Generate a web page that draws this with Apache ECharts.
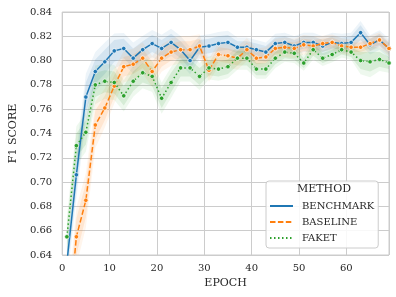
<!DOCTYPE html>
<html>
<head>
<meta charset="utf-8">
<script src="https://cdn.jsdelivr.net/npm/echarts@6/dist/echarts.min.js"></script>
<style>html,body{margin:0;padding:0;background:#fff}#c{width:396px;height:297px}</style>
</head>
<body>
<div id="c"></div>
<script>
const epochs = [1,3,5,7,9,11,13,15,17,19,21,23,25,27,29,31,33,35,37,39,41,43,45,47,49,51,53,55,57,59,61,63,65,67,69];
const benchmark = [0.634,0.706,0.770,0.791,0.799,0.808,0.810,0.802,0.809,0.814,0.810,0.815,0.809,0.800,0.811,0.812,0.814,0.815,0.811,0.811,0.809,0.807,0.814,0.815,0.812,0.815,0.815,0.812,0.815,0.814,0.815,0.823,0.813,0.817,0.810];
const baseline = [0.570,0.655,0.685,0.747,0.761,0.779,0.795,0.797,0.802,0.791,0.802,0.807,0.809,0.809,0.812,0.792,0.805,0.804,0.802,0.809,0.802,0.803,0.810,0.811,0.810,0.813,0.812,0.814,0.815,0.812,0.811,0.811,0.814,0.817,0.810];
const faket = [0.655,0.730,0.741,0.780,0.783,0.782,0.771,0.783,0.790,0.787,0.769,0.782,0.794,0.794,0.787,0.794,0.793,0.795,0.802,0.802,0.793,0.793,0.802,0.807,0.806,0.798,0.809,0.802,0.805,0.809,0.807,0.800,0.799,0.801,0.798];
const benchmarkCi = [0.010,0.012,0.012,0.010,0.010,0.009,0.008,0.008,0.007,0.007,0.007,0.007,0.007,0.007,0.006,0.006,0.006,0.006,0.005,0.005,0.005,0.005,0.005,0.005,0.005,0.005,0.005,0.005,0.005,0.005,0.005,0.006,0.005,0.005,0.005];
const baselineCi = [0.015,0.015,0.014,0.012,0.010,0.009,0.008,0.008,0.008,0.008,0.007,0.007,0.007,0.007,0.006,0.006,0.006,0.006,0.006,0.006,0.005,0.005,0.005,0.005,0.005,0.005,0.005,0.004,0.004,0.004,0.004,0.004,0.004,0.004,0.004];
const faketCi = [0.010,0.010,0.010,0.010,0.009,0.009,0.008,0.008,0.008,0.008,0.008,0.008,0.007,0.007,0.007,0.006,0.006,0.006,0.006,0.006,0.005,0.005,0.005,0.005,0.005,0.004,0.005,0.004,0.004,0.004,0.004,0.007,0.008,0.006,0.005];
const yTicks = {min:0.64, max:0.84, interval:0.02};
const xTicks = {min:0, max:69, interval:10};

const FONT = 'DejaVu Serif';
const TXT = '#262626';
const methods = [
  {name:'BENCHMARK', vals:benchmark, ci:benchmarkCi, color:'#1f77b4', type:'solid'},
  {name:'BASELINE', vals:baseline, ci:baselineCi, color:'#ff7f0e', type:[5.5,2.4]},
  {name:'FAKET', vals:faket, ci:faketCi, color:'#2ca02c', type:[1.5,2.5]}
];
const bandLayers = [{scale:1.6, opacity:0.08}, {scale:1.0, opacity:0.12}];
const series = [];
methods.forEach((m,i)=>{
  const band = epochs.map((e,k)=>[e, m.vals[k]-m.ci[k], m.vals[k]+m.ci[k]]);
  series.push({
    name:m.name+'_band', type:'custom', silent:true, clip:true, z:1,
    data:band,
    encode:{x:0, y:[1,2]},
    renderItem:(params, api)=>{
      if (params.dataIndex !== 0) return null;
      const cs = params.coordSys;
      const children = bandLayers.map(L=>{
        const up = [], lo = [];
        epochs.forEach((e,k)=>{
          up.push(api.coord([e, m.vals[k] + m.ci[k]*L.scale]));
          lo.push(api.coord([e, m.vals[k] - m.ci[k]*L.scale]));
        });
        return {type:'polygon', shape:{points:up.concat(lo.reverse())}, style:{fill:m.color, opacity:L.opacity}};
      });
      return {
        type:'group', children:children,
        clipPath:{type:'rect', shape:{x:cs.x, y:cs.y, width:cs.width, height:cs.height}}
      };
    },
    animation:false
  });
});
methods.forEach((m,i)=>{
  series.push({
    name:m.name, type:'line', symbol:'circle', symbolSize:4.5,
    data:epochs.map((e,k)=>[e, m.vals[k]]),
    lineStyle:{color:m.color, width:1.5, type:m.type},
    itemStyle:{color:m.color, borderColor:'#fff', borderWidth:0.7},
    z:3+i, clip:true, animation:false
  });
});

const chart = echarts.init(document.getElementById('c'), null, {renderer:'canvas'});
chart.setOption({
  animation:false,
  backgroundColor:'#fff',
  grid:{left:56, right:7, top:12, bottom:42, show:true, borderColor:'#cccccc', borderWidth:1, backgroundColor:'#fff'},
  xAxis:{
    type:'value', min:xTicks.min, max:xTicks.max, interval:xTicks.interval,
    name:'EPOCH', nameLocation:'middle', nameGap:23,
    nameTextStyle:{fontFamily:FONT, fontSize:11, color:TXT},
    axisLine:{show:false}, axisTick:{show:false},
    axisLabel:{fontFamily:FONT, fontSize:10, color:TXT, margin:8, showMaxLabel:false,
      formatter:v=>(v % xTicks.interval === 0 ? String(v) : '')},
    splitLine:{show:true, lineStyle:{color:'#cccccc', width:1}}
  },
  yAxis:{
    type:'value', min:yTicks.min, max:yTicks.max, interval:yTicks.interval,
    name:'F1 SCORE', nameLocation:'middle', nameGap:38,
    nameTextStyle:{fontFamily:FONT, fontSize:11, color:TXT},
    axisLine:{show:false}, axisTick:{show:false},
    axisLabel:{fontFamily:FONT, fontSize:10, color:TXT, margin:10, formatter:v=>v.toFixed(2)},
    splitLine:{show:true, lineStyle:{color:'#cccccc', width:1}}
  },
  legend:{
    data:['BENCHMARK','BASELINE','FAKET'], orient:'vertical', left:266, top:181,
    padding:[20,4,5,3], itemWidth:23, itemHeight:10, itemGap:6,
    backgroundColor:'rgba(255,255,255,0.85)', borderColor:'#cccccc', borderWidth:1, borderRadius:3,
    textStyle:{fontFamily:FONT, fontSize:10, color:TXT, padding:[0,0,0,4]},
    itemStyle:{opacity:0}
  },
  graphic:[{type:'text', x:324, y:189, z:100, style:{text:'METHOD', textAlign:'center', textVerticalAlign:'middle', font:'11px "DejaVu Serif"', fill:TXT}}],
  series:series
});
</script>
</body>
</html>
